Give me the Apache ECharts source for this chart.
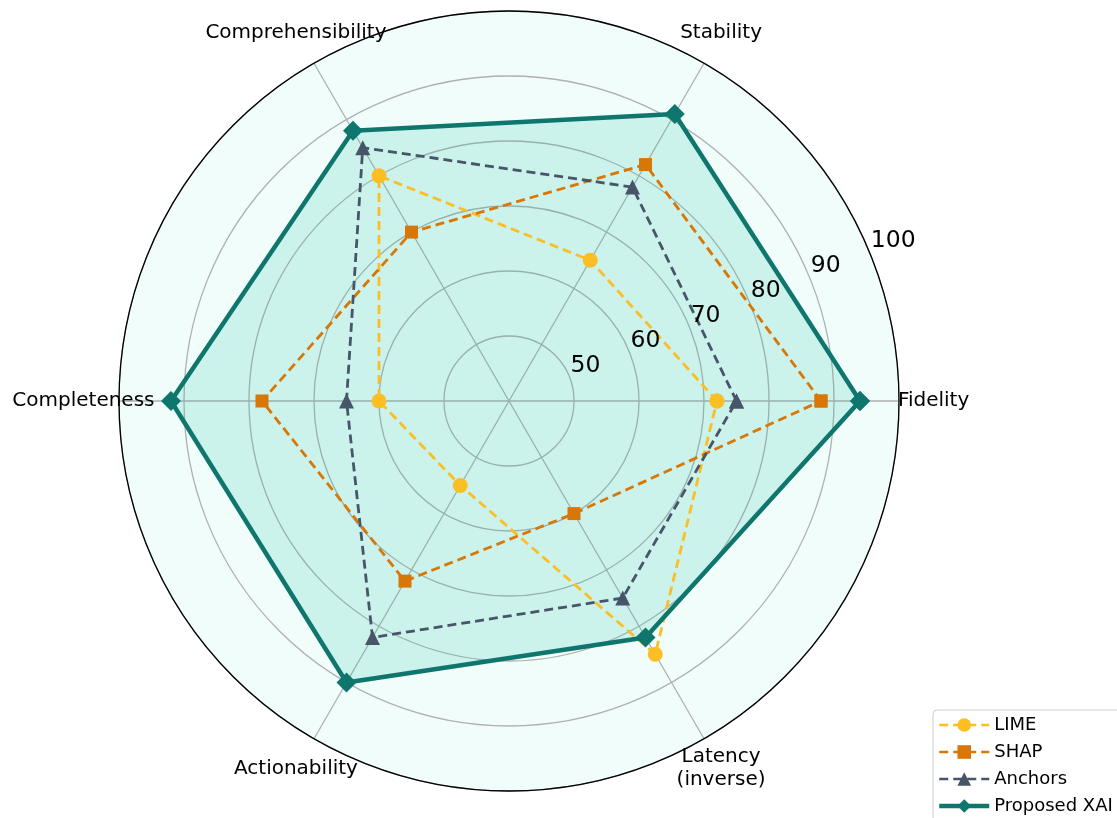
<!DOCTYPE html>
<html>
<head>
<meta charset="utf-8">
<script src="https://cdn.jsdelivr.net/npm/echarts@6/dist/echarts.min.js"></script>
<style>
  html, body { margin: 0; padding: 0; background: #fff; }
  #chart { width: 1117px; height: 818px; }
</style>
</head>
<body>
<div id="chart"></div>
<script>
// radar axes (counter-clockwise from the right)
const categories = ['Fidelity', 'Stability', 'Comprehensibility', 'Completeness', 'Actionability', 'Latency\n(inverse)']
const limeValues = [72, 65, 80, 60, 55, 85]
const shapValues = [88, 82, 70, 78, 72, 60]
const anchorsValues = [75, 78, 85, 65, 82, 75]
const proposedValues = [94, 91, 88, 92, 90, 82]
const radiusTicks = [50, 60, 70, 80, 90, 100]

const font = 'DejaVu Sans'
const step = 360 / categories.length
const labelRadius = 105.4
const tickAngle = 22.5
const center = [509, 401]

// close the polygon by repeating the first point
function loop (values) {
  const pts = values.map((v, i) => [v, i * step])
  pts.push([values[0], 360])
  return pts
}

function lineSeries (name, values, color, symbol, size, dashed, width) {
  return {
    name,
    type: 'line',
    coordinateSystem: 'polar',
    polarIndex: 1,
    data: loop(values),
    symbol,
    symbolSize: size,
    lineStyle: { color, width, type: dashed ? [9, 5] : 'solid' },
    itemStyle: { color },
    clip: false,
    z: 3
  }
}

const chart = echarts.init(document.getElementById('chart'))

const proposed = lineSeries('Proposed XAI', proposedValues, '#0f766e', 'diamond', 20, false, 4.5)
proposed.areaStyle = { color: '#14b8a6', opacity: 0.16 }

const hidden = { axisLine: { show: false }, axisTick: { show: false }, axisLabel: { show: false }, splitLine: { show: false } }

const labelSeries = (data, label) => ({
  type: 'scatter',
  coordinateSystem: 'polar',
  polarIndex: 1,
  data,
  symbolSize: 1,
  itemStyle: { color: 'rgba(0,0,0,0)' },
  clip: false,
  silent: true,
  label: Object.assign({ show: true, fontFamily: font, color: '#000', opacity: 1, textBorderWidth: 0 }, label),
  z: 5
})

chart.setOption({
  backgroundColor: '#fff',
  animation: false,
  textStyle: { fontFamily: font },
  // polar 0 only paints the background, polar 1 carries the grid and the data
  polar: [{ center, radius: 390 }, { center, radius: 390 }],
  angleAxis: [
    Object.assign({ polarIndex: 0, type: 'value', min: 0, max: 360, startAngle: 0, clockwise: false, z: 0 }, hidden),
    {
      polarIndex: 1,
      type: 'value',
      min: 0,
      max: 360,
      interval: step,
      startAngle: 0,
      clockwise: false,
      axisLine: { lineStyle: { color: '#000', width: 1.3 } },
      axisTick: { show: false },
      axisLabel: { show: false },
      splitLine: { lineStyle: { color: '#b0b0b0', width: 1.3 } },
      z: 2
    }
  ],
  radiusAxis: [
    Object.assign({ polarIndex: 0, type: 'value', min: 40, max: 100, interval: 10, z: 0,
      splitArea: { show: true, areaStyle: { color: ['#f0fdfa'] } } }, hidden),
    {
      polarIndex: 1,
      type: 'value',
      min: 40,
      max: 100,
      interval: 10,
      axisLine: { show: false },
      axisTick: { show: false },
      axisLabel: { show: false },
      splitLine: { show: true, lineStyle: { color: '#b0b0b0', width: 1.3 } },
      z: 1
    }
  ],
  legend: {
    data: [
      { name: 'LIME', lineStyle: { width: 2.5 } },
      { name: 'SHAP', lineStyle: { width: 2.5 } },
      { name: 'Anchors', lineStyle: { width: 2.5 } },
      { name: 'Proposed XAI', lineStyle: { width: 4.5 } }
    ],
    orient: 'vertical',
    left: 933,
    top: 710,
    height: 140,
    padding: [6, 20, 6, 4],
    itemWidth: 50,
    itemHeight: 17,
    itemGap: 9,
    backgroundColor: '#fff',
    borderColor: '#cccccc',
    borderWidth: 1,
    borderRadius: 4,
    textStyle: { fontFamily: font, fontSize: 18, color: '#000' }
  },
  series: [
    lineSeries('LIME', limeValues, '#fbbf24', 'circle', 15, true, 2.8),
    lineSeries('SHAP', shapValues, '#d97706', 'rect', 13, true, 2.8),
    lineSeries('Anchors', anchorsValues, '#475569', 'triangle', 15, true, 2.8),
    proposed,
    labelSeries(
      categories.map((c, i) => ({ value: [labelRadius, i * step], name: c })),
      { position: [0, 0], align: 'center', verticalAlign: 'middle', formatter: p => p.name, fontSize: 20, lineHeight: 23 }
    ),
    labelSeries(
      radiusTicks.map(r => [r, tickAngle]),
      { position: [2, 2], align: 'left', verticalAlign: 'bottom', formatter: p => String(p.value[0]), fontSize: 23.5 }
    )
  ]
})
</script>
</body>
</html>
